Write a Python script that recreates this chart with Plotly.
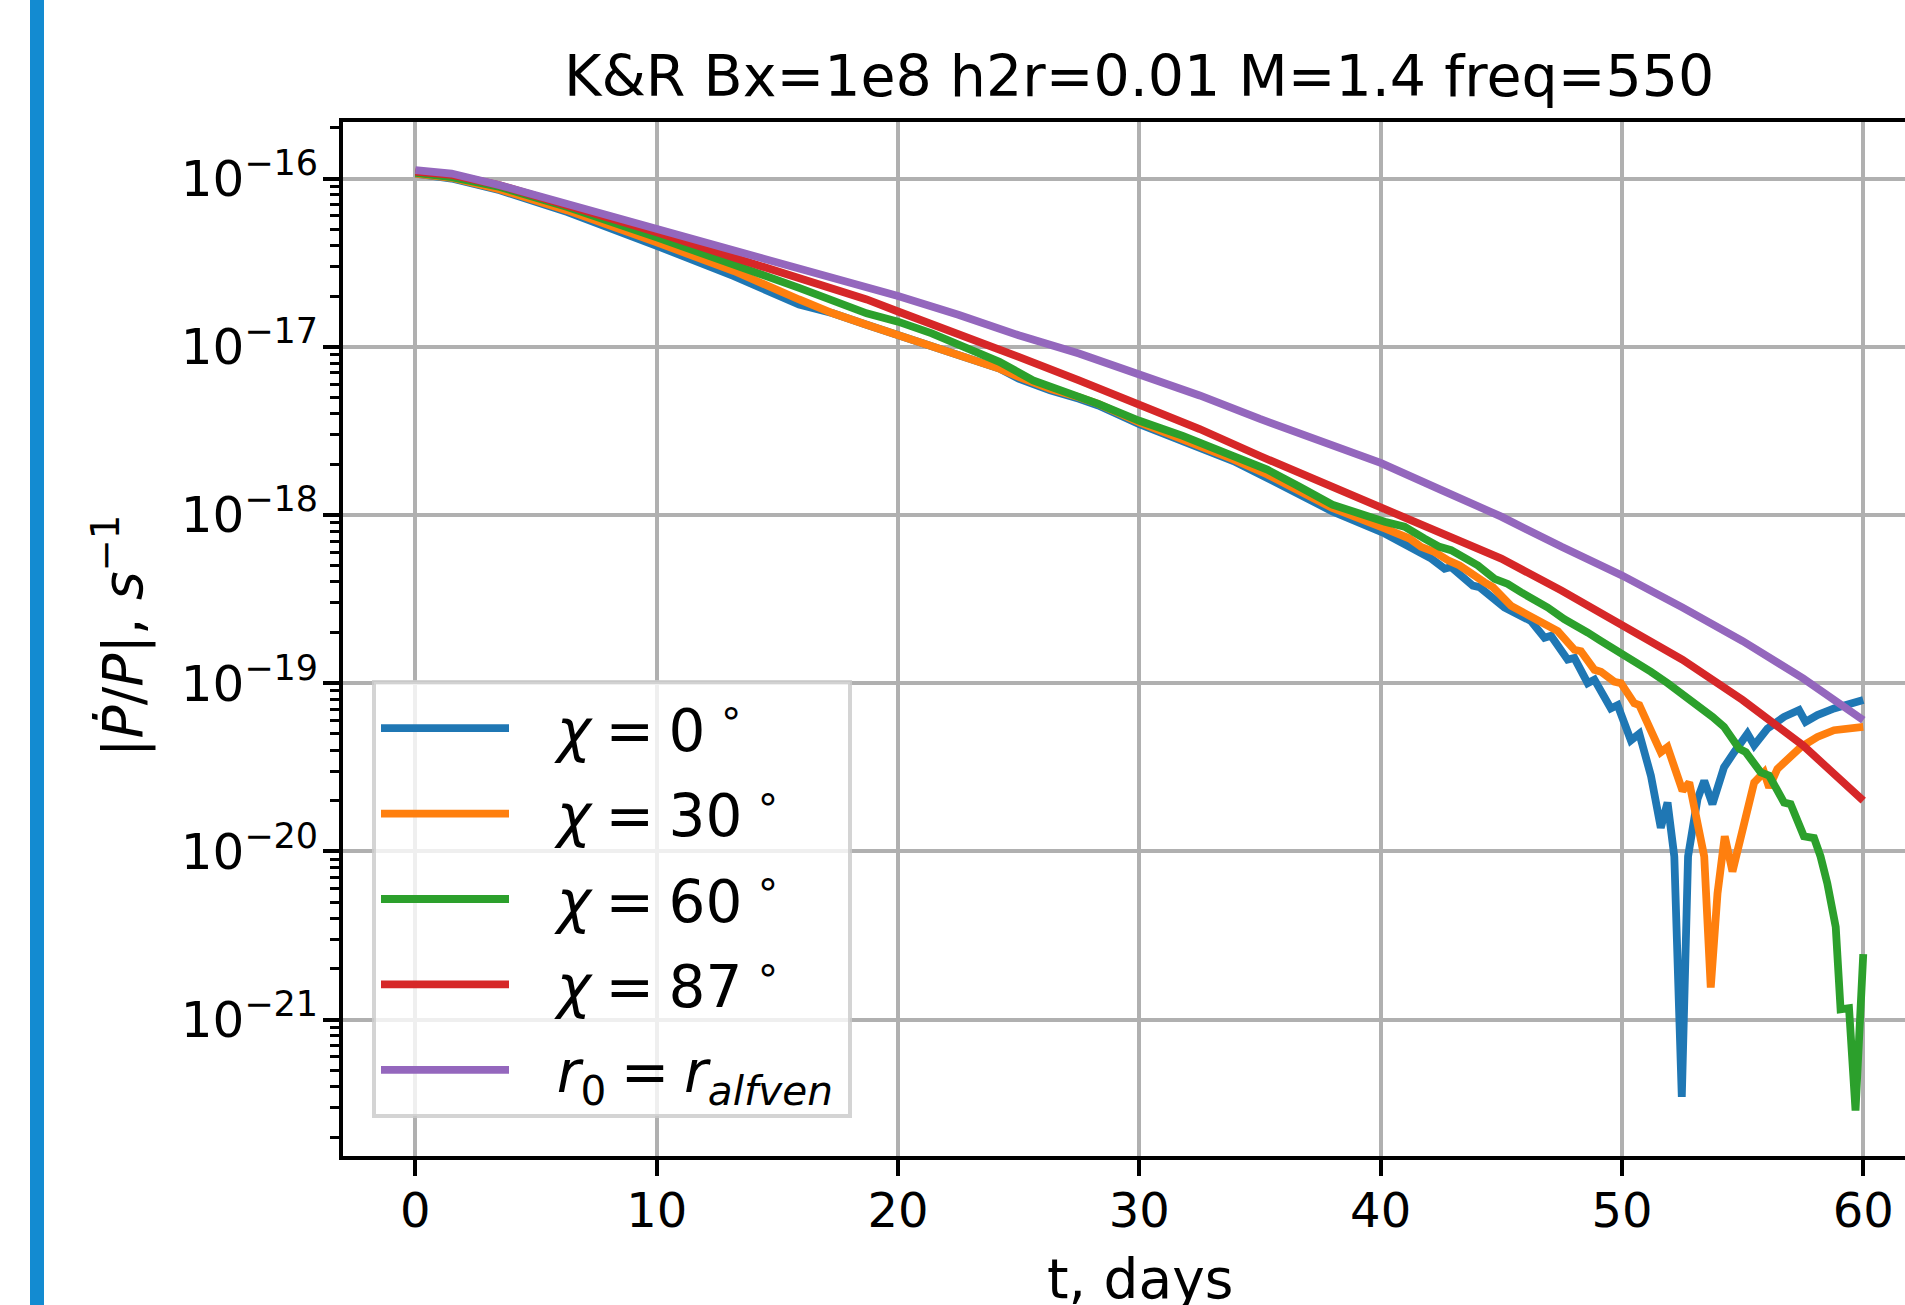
import plotly.graph_objects as go

# ---------------- data ----------------
t_chi0 = [0, 1.5, 3.5, 6.3, 10, 13.2, 15.9, 17.3, 18.7, 20.0, 21.4, 22.8, 24.2, 25.0, 26.3, 27.5,
          28.3, 30.0, 31.1, 32.5, 33.9, 35.3, 36.6, 38.0, 40.17, 42.1, 42.65, 42.92, 43.82, 44.1,
          45.13, 45.41, 45.96, 46.23, 46.79, 47.06, 47.75, 48.03, 48.58, 48.86, 49.54, 49.82,
          50.37, 50.72, 51.2, 51.61, 51.89, 52.17, 52.48, 52.74, 53.13, 53.41, 53.75, 54.23,
          54.65, 55.2, 55.48, 56.03, 56.72, 57.34, 57.61, 58.1, 58.79, 60.0]
v_chi0 = [1.07e-16, 1.00e-16, 8.51e-17, 6.31e-17, 3.98e-17, 2.63e-17, 1.78e-17, 1.58e-17, 1.35e-17,
          1.17e-17, 1.02e-17, 8.71e-18, 7.41e-18, 6.46e-18, 5.50e-18, 4.90e-18, 4.47e-18, 3.47e-18,
          3.02e-18, 2.51e-18, 2.09e-18, 1.66e-18, 1.32e-18, 1.05e-18, 7.76e-19, 5.50e-19, 4.79e-19,
          4.90e-19, 3.80e-19, 3.72e-19, 2.82e-19, 2.69e-19, 2.40e-19, 2.34e-19, 1.86e-19, 1.91e-19,
          1.38e-19, 1.41e-19, 1.00e-19, 1.05e-19, 7.08e-20, 7.41e-20, 4.57e-20, 5.01e-20, 2.82e-20,
          1.38e-20, 1.95e-20, 9.33e-21, 3.47e-22, 9.33e-21, 2.04e-20, 2.63e-20, 1.91e-20, 3.16e-20,
          3.89e-20, 5.01e-20, 4.27e-20, 5.37e-20, 6.31e-20, 6.92e-20, 5.89e-20, 6.46e-20, 7.08e-20,
          7.94e-20]

t_chi30 = [0, 1.5, 3.5, 6.3, 10, 13.2, 15.9, 17.3, 18.7, 20.0, 21.4, 22.8, 24.2, 25.0, 26.3, 27.5,
           28.3, 30.0, 31.1, 32.5, 33.9, 35.3, 36.6, 38.0, 40.17, 41.2, 41.68, 42.23, 42.79, 43.27,
           44.3, 44.65, 45.41, 45.82, 46.23, 46.79, 47.34, 48.03, 48.3, 48.86, 49.13, 49.68, 49.96,
           50.51, 50.72, 51.61, 51.89, 52.51, 52.79, 53.41, 53.68, 53.96, 54.26, 54.58, 54.99,
           55.34, 55.48, 55.89, 56.1, 56.44, 57.41, 58.1, 58.79, 60.0]
v_chi30 = [1.07e-16, 1.01e-16, 8.61e-17, 6.46e-17, 4.17e-17, 2.82e-17, 1.91e-17, 1.58e-17, 1.35e-17,
           1.17e-17, 1.02e-17, 8.71e-18, 7.41e-18, 6.61e-18, 5.62e-18, 5.01e-18, 4.57e-18, 3.55e-18,
           3.09e-18, 2.57e-18, 2.14e-18, 1.74e-18, 1.38e-18, 1.10e-18, 8.32e-19, 7.24e-19, 6.46e-19,
           6.03e-19, 5.37e-19, 5.01e-19, 3.98e-19, 3.72e-19, 2.88e-19, 2.69e-19, 2.51e-19, 2.24e-19,
           2.04e-19, 1.58e-19, 1.55e-19, 1.20e-19, 1.17e-19, 1.02e-19, 1.00e-19, 7.59e-20, 7.41e-20,
           3.89e-20, 4.17e-20, 2.29e-20, 2.57e-20, 9.33e-21, 1.55e-21, 5.62e-21, 1.23e-20, 7.59e-21,
           1.35e-20, 2.04e-20, 2.57e-20, 2.95e-20, 2.40e-20, 3.09e-20, 4.17e-20, 4.79e-20, 5.25e-20,
           5.50e-20]

t_chi60 = [0, 1.5, 3.5, 6.3, 10, 13.2, 15.9, 18.7, 20.0, 21.4, 22.8, 24.2, 25.6, 27.0, 28.3, 30.0,
           31.8, 33.9, 35.3, 36.6, 38.0, 40.17, 40.99, 41.82, 42.44, 42.92, 43.48, 44.03, 44.72,
           45.27, 45.82, 46.37, 46.92, 47.61, 48.03, 48.58, 49.13, 50.0, 50.65, 51.2, 51.89, 52.58,
           53.27, 53.75, 54.23, 54.86, 55.13, 55.75, 56.1, 56.72, 56.99, 57.54, 57.96, 58.23, 58.51,
           58.86, 59.06, 59.41, 59.68, 60.0]
v_chi60 = [1.08e-16, 1.02e-16, 8.91e-17, 6.76e-17, 4.47e-17, 3.09e-17, 2.24e-17, 1.58e-17, 1.41e-17,
           1.20e-17, 1.00e-17, 8.13e-18, 6.31e-18, 5.37e-18, 4.57e-18, 3.63e-18, 2.95e-18, 2.24e-18,
           1.86e-18, 1.48e-18, 1.15e-18, 9.12e-19, 8.51e-19, 7.24e-19, 6.46e-19, 6.17e-19, 5.50e-19,
           5.01e-19, 4.17e-19, 3.89e-19, 3.47e-19, 3.16e-19, 2.82e-19, 2.40e-19, 2.24e-19, 2.00e-19,
           1.78e-19, 1.51e-19, 1.32e-19, 1.17e-19, 1.00e-19, 8.51e-20, 7.08e-20, 6.31e-20, 5.50e-20,
           4.07e-20, 3.89e-20, 2.95e-20, 2.82e-20, 1.95e-20, 1.91e-20, 1.23e-20, 1.20e-20, 9.33e-21,
           6.46e-21, 3.55e-21, 1.15e-21, 1.17e-21, 2.88e-22, 2.45e-21]

t_chi87 = [0, 1.5, 3.5, 6.3, 10, 13.2, 15.9, 18.7, 20, 22.5, 25, 27.5, 30, 32.5, 35, 37.5, 40,
           42.5, 45, 47.5, 50, 52.5, 55, 57.5, 60]
v_chi87 = [1.10e-16, 1.05e-16, 9.12e-17, 6.92e-17, 4.79e-17, 3.39e-17, 2.57e-17, 1.91e-17, 1.62e-17,
           1.20e-17, 8.71e-18, 6.31e-18, 4.57e-18, 3.24e-18, 2.24e-18, 1.58e-18, 1.10e-18,
           7.76e-19, 5.50e-19, 3.55e-19, 2.19e-19, 1.38e-19, 7.94e-20, 4.27e-20, 2.00e-20]

t_alfven = [0, 1.5, 3.5, 6.3, 10, 13.2, 15.9, 18.7, 20, 22.5, 25, 27.5, 30, 32.5, 35, 37.5, 40,
            42.5, 45, 47.5, 50, 52.5, 55, 57.5, 60]
v_alfven = [1.12e-16, 1.07e-16, 9.12e-17, 7.08e-17, 5.01e-17, 3.72e-17, 2.95e-17, 2.29e-17, 2.00e-17,
            1.55e-17, 1.17e-17, 9.12e-18, 6.92e-18, 5.13e-18, 3.72e-18, 2.75e-18, 2.04e-18,
            1.41e-18, 9.77e-19, 6.46e-19, 4.37e-19, 2.82e-19, 1.78e-19, 1.07e-19, 6.03e-20]

SP = "\u2005"  # math-like spacing around "="
DEG = "<sup>\u00a0∘</sup>"
series_names = ["<i>χ</i>" + SP + "=" + SP + "0" + DEG,
                "<i>χ</i>" + SP + "=" + SP + "30" + DEG,
                "<i>χ</i>" + SP + "=" + SP + "60" + DEG,
                "<i>χ</i>" + SP + "=" + SP + "87" + DEG,
                "<i>r</i><sub>0</sub>" + SP + "=" + SP + "<i>r</i><sub><i>alfven</i></sub>\u2006"]
series_colors = ["#1f77b4", "#ff7f0e", "#2ca02c", "#d62728", "#9467bd"]

x_tick_vals = [0, 10, 20, 30, 40, 50, 60]
x_tick_text = ["0", "10", "20", "30", "40", "50", "60"]
y_tick_vals = [1e-21, 1e-20, 1e-19, 1e-18, 1e-17, 1e-16]
y_tick_text = ["10<sup>−21</sup>", "10<sup>−20</sup>", "10<sup>−19</sup>",
               "10<sup>−18</sup>", "10<sup>−17</sup>", "10<sup>−16</sup>"]
y_minor_vals = [m * 10.0 ** e for e in range(-22, -15) for m in range(2, 10)]

title_text = "K&amp;R Bx=1e8 h2r=0.01 M=1.4 freq=550"
x_label = "t, days"
y_label = "|<i>Ṗ</i>/<i>P</i>|, <i>s</i><sup>−1</sup>"

# ---------------- figure ----------------
FONT = "DejaVu Sans"
fig = go.Figure()
all_t = [t_chi0, t_chi30, t_chi60, t_chi87, t_alfven]
all_v = [v_chi0, v_chi30, v_chi60, v_chi87, v_alfven]
for i, (name, tt, vv, col) in enumerate(zip(series_names, all_t, all_v, series_colors)):
    fig.add_trace(go.Scatter(x=tt, y=vv, mode="lines", name="\u00a0\u00a0\u200a" + name,
                             legendgroup="g%d" % i,
                             line=dict(color=col, width=7.8)))

W, H = 1905, 1305
L, T, B = 343, 122, 149
PW = W - L
PH = H - T - B


def px_x(px):
    return (px - L) / PW


def px_y(py):
    return (H - B - py) / PH


fig.update_layout(
    width=W, height=H,
    margin=dict(l=L, r=0, t=T, b=B, pad=0),
    paper_bgcolor="white", plot_bgcolor="white",
    font=dict(family=FONT, color="black"),
    showlegend=True,
    legend=dict(x=px_x(372), y=px_y(680), xanchor="left", yanchor="top",
                bgcolor="rgba(255,255,255,0.8)", bordercolor="rgba(204,204,204,0.85)",
                borderwidth=4, font=dict(size=58, family=FONT, color="black"),
                itemwidth=128, traceorder="grouped", tracegroupgap=7),
    xaxis=dict(range=[-3, 61.73], tickmode="array", tickvals=x_tick_vals, ticktext=x_tick_text,
               showgrid=True, gridcolor="#b0b0b0", gridwidth=3.5, zeroline=False,
               showline=True, linecolor="black", linewidth=3.7, mirror=True,
               ticks="outside", ticklen=16, tickwidth=3.7, tickcolor="black",
               ticklabelstandoff=-6,
               tickfont=dict(size=48, family=FONT, color="black")),
    yaxis=dict(type="log", range=[-21.811, -15.664], tickmode="array",
               tickvals=y_tick_vals, ticktext=y_tick_text,
               showgrid=True, gridcolor="#b0b0b0", gridwidth=3.5, zeroline=False,
               showline=True, linecolor="black", linewidth=3.7, mirror=False,
               ticks="outside", ticklen=16, tickwidth=3.7, tickcolor="black",
               ticklabelstandoff=-5,
               tickfont=dict(size=50, family=FONT, color="black"),
               minor=dict(tickmode="array", tickvals=y_minor_vals, ticks="outside", ticklen=9,
                          tickwidth=2.7, tickcolor="black", showgrid=False)),
    annotations=[
        dict(text=title_text, xref="paper", yref="paper", x=px_x(1139), y=px_y(76),
             xanchor="center", yanchor="middle", showarrow=False,
             font=dict(size=57, family=FONT, color="black")),
        dict(text=x_label, xref="paper", yref="paper", x=px_x(1140), y=px_y(1279),
             xanchor="center", yanchor="middle", showarrow=False,
             font=dict(size=55, family=FONT, color="black")),
        dict(text=y_label, xref="paper", yref="paper", x=px_x(119), y=px_y(636),
             xanchor="center", yanchor="middle", showarrow=False, textangle=-90,
             font=dict(size=55, family=FONT, color="black")),
    ],
    shapes=[
        dict(type="rect", xref="paper", yref="paper", x0=px_x(30), x1=px_x(44),
             y0=px_y(H + 20), y1=px_y(-20), fillcolor="#138bd1", line=dict(width=0),
             layer="above"),
    ],
)

fig.write_html("out.html", config={"displayModeBar": False},
               post_script="document.body.style.margin='0px';document.body.style.overflow='hidden';")
